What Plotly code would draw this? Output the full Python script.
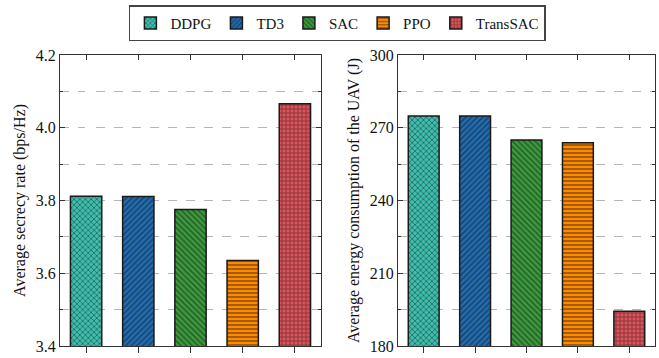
import plotly.graph_objects as go

algorithms = ["DDPG", "TD3", "SAC", "PPO", "TransSAC"]
secrecy_rate = [3.812, 3.811, 3.775, 3.635, 4.066]
energy = [274.8, 274.8, 265.0, 263.8, 194.3]

colors = ["#3cbfae", "#1f6db5", "#3a9e3c", "#ff8a00", "#e0525a"]
patterns = ["x", "/", "\\", "-", "+"]

left_ticks = [3.4, 3.6, 3.8, 4.0, 4.2]
right_ticks = [180, 210, 240, 270, 300]

FONT = "Liberation Serif, Times New Roman, serif"

fig = go.Figure()
for i, name in enumerate(algorithms):
    marker = dict(
        color=colors[i],
        line=dict(color="#1a1a1a", width=1.5),
        pattern=dict(shape=patterns[i], fgcolor="#1a1a1a", size=4, solidity=0.4),
    )
    fig.add_trace(go.Bar(x=[name], y=[secrecy_rate[i]], name=name, marker=marker,
                         width=0.6, xaxis="x", yaxis="y", showlegend=True))
    fig.add_trace(go.Bar(x=[name], y=[energy[i]], name=name, marker=marker,
                         width=0.6, xaxis="x2", yaxis="y2", showlegend=False))

dl = [60 / 659, 321 / 659]
dr = [398 / 659, 655 / 659]
dy = [12 / 358, 303 / 358]

xcommon = dict(showline=True, linecolor="#333", linewidth=1.2, mirror=True,
               ticks="outside", ticklen=6, tickcolor="#333", showticklabels=False,
               showgrid=False, categoryorder="array", categoryarray=algorithms,
               automargin=False)
ycommon = dict(showline=True, linecolor="#333", linewidth=1.2, mirror="ticks",
               ticks="inside", ticklen=5, tickcolor="#333",
               tickfont=dict(family=FONT, size=16, color="#111"),
               showgrid=True, gridcolor="#b5b5b5", griddash="dash", gridwidth=1,
               zeroline=False, automargin=False,
               title_font=dict(family=FONT, size=16, color="#111"))

fig.update_layout(
    width=659, height=358,
    margin=dict(l=0, r=0, t=0, b=0, autoexpand=False),
    paper_bgcolor="white", plot_bgcolor="white",
    font=dict(family=FONT, size=16, color="#111"),
    barmode="overlay",
    xaxis=dict(domain=dl, anchor="y", **xcommon),
    xaxis2=dict(domain=dr, anchor="y2", **xcommon),
    xaxis3=dict(domain=dl, anchor="y", overlaying="x", side="top", range=[-0.5, 4.5],
                tickvals=list(range(len(algorithms))), ticks="inside", ticklen=5,
                tickcolor="#333", showticklabels=False, showgrid=False, showline=False,
                automargin=False),
    xaxis4=dict(domain=dr, anchor="y2", overlaying="x2", side="top", range=[-0.5, 4.5],
                tickvals=list(range(len(algorithms))), ticks="inside", ticklen=5,
                tickcolor="#333", showticklabels=False, showgrid=False, showline=False,
                automargin=False),
    yaxis=dict(domain=dy, anchor="x", range=[3.4, 4.2], tickvals=left_ticks,
               ticktext=[f"{v:.1f}" for v in left_ticks],
               minor=dict(dtick=0.1, tick0=3.4, showgrid=True, gridcolor="#b5b5b5",
                          griddash="dash", ticks="inside", ticklen=3, tickcolor="#333"),
               title=dict(text="Average secrecy rate (bps/Hz)", standoff=6),
               **ycommon),
    yaxis2=dict(domain=dy, anchor="x2", range=[180, 300], tickvals=right_ticks,
                minor=dict(dtick=15, tick0=180, showgrid=True, gridcolor="#b5b5b5",
                           griddash="dash", ticks="inside", ticklen=3, tickcolor="#333"),
                title=dict(text="Average energy consumption of the UAV (J)", standoff=6),
                **ycommon),
    legend=dict(orientation="h", x=0.512, xanchor="center", y=0.985, yanchor="top",
                bordercolor="#444", borderwidth=1.5, bgcolor="white",
                font=dict(family=FONT, size=15, color="#111"),
                itemwidth=30, tracegroupgap=0),
)
# invisible helper traces that activate the top tick axes
fig.add_trace(go.Scatter(x=[0], y=[3.4], xaxis="x3", yaxis="y", mode="markers",
                         marker=dict(opacity=0), showlegend=False, hoverinfo="skip"))
fig.add_trace(go.Scatter(x=[0], y=[180], xaxis="x4", yaxis="y2", mode="markers",
                         marker=dict(opacity=0), showlegend=False, hoverinfo="skip"))

fig.write_html("out.html", config={"displayModeBar": False},
               post_script="document.body.style.margin='0';")
